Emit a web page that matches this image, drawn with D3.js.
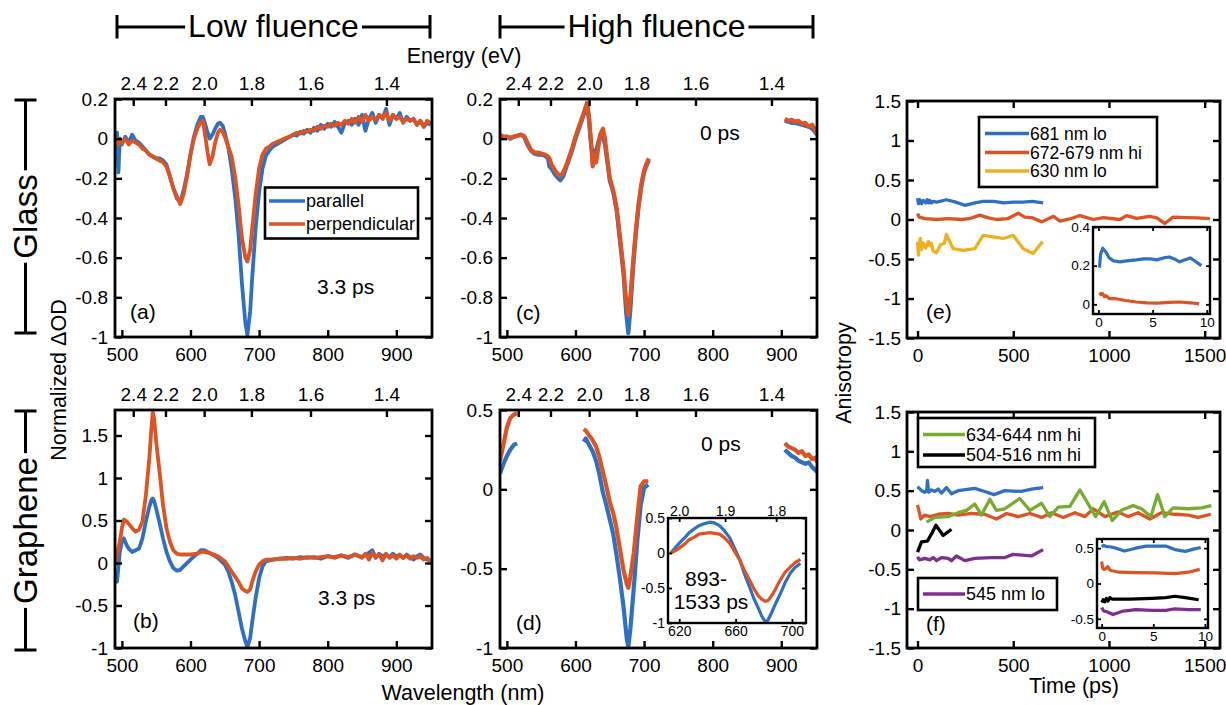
<!DOCTYPE html>
<html>
<head>
<meta charset="utf-8">
<script src="https://cdn.jsdelivr.net/npm/d3@7"></script>
<style>
  body { margin: 0; background: #fff; }
  svg { display: block; font-family: "Liberation Sans", Arial, Helvetica, sans-serif; }
</style>
</head>
<body>
<svg id="fig" width="1226" height="705"></svg>
<script>
// ---------- values ----------
const energyTicks = [2.4, 2.2, 2.0, 1.8, 1.6, 1.4];
const insetEnergyTicks = [2.0, 1.9, 1.8];
const wlTicks = [500, 600, 700, 800, 900];
const timeTicks = [0, 500, 1000, 1500];
const yTicksGlass = [-1, -0.8, -0.6, -0.4, -0.2, 0, 0.2];
const yTicksB = [-1, -0.5, 0, 0.5, 1, 1.5];
const yTicksD = [-1, -0.5, 0, 0.5];
const yTicksAniso = [-1.5, -1, -0.5, 0, 0.5, 1, 1.5];

// (a) glass, low fluence, 3.3 ps
const wlA = [490, 493, 495, 497, 500, 505, 510, 515, 520, 525,
  530, 535, 540, 545, 550, 555, 560, 565, 570, 575,
  580, 585, 590, 595, 600, 605, 610, 615, 618, 620,
  625, 628, 632, 636, 640, 643, 647, 650, 655, 660,
  665, 670, 675, 680, 683, 687, 690, 695, 700, 705,
  710, 715, 720, 730, 740, 750, 755, 760, 765, 770,
  775, 780, 785, 790, 795, 800, 805, 810, 815, 820,
  825, 830, 835, 840, 845, 850, 855, 860, 865, 870,
  875, 880, 885, 890, 895, 900, 905, 910, 915, 920,
  925, 930, 935, 940, 945, 950];
const aPar = [-0.02, 0.03, -0.17, 0.0, -0.03, 0.01, -0.02, 0.02, -0.01, -0.02,
  -0.04, -0.06, -0.08, -0.09, -0.10, -0.10, -0.11, -0.13, -0.19, -0.25,
  -0.30, -0.32, -0.26, -0.18, -0.08, 0.01, 0.07, 0.11, 0.11, 0.09,
  0.03, 0.0, 0.02, 0.05, 0.075, 0.08, 0.065, 0.03, -0.04, -0.15,
  -0.29, -0.48, -0.73, -0.93, -0.99, -0.87, -0.70, -0.45, -0.27, -0.15,
  -0.085, -0.06, -0.04, -0.02, 0.0, 0.02, 0.015, 0.035, 0.025, 0.045,
  0.03, 0.055, 0.04, 0.07, 0.05, 0.075, 0.06, 0.085, 0.06, 0.03,
  0.08, 0.09, 0.07, 0.10, 0.07, 0.12, 0.04, 0.10, 0.13, 0.08,
  0.12, 0.10, 0.15, 0.07, 0.12, 0.10, 0.13, 0.08, 0.11, 0.09,
  0.10, 0.07, 0.09, 0.06, 0.08, 0.07];
const aPerp = [-0.01, 0.0, -0.03, -0.01, -0.02, 0.0, -0.03, -0.01, -0.02, -0.03,
  -0.05, -0.06, -0.08, -0.09, -0.10, -0.11, -0.12, -0.14, -0.19, -0.25,
  -0.29, -0.33, -0.28, -0.19, -0.08, 0.0, 0.05, 0.085, 0.09, 0.05,
  -0.07, -0.13, -0.09, -0.02, 0.03, 0.045, 0.035, 0.01, -0.04, -0.09,
  -0.19, -0.33, -0.50, -0.60, -0.62, -0.56, -0.45, -0.28, -0.15, -0.08,
  -0.05, -0.04, -0.025, -0.01, 0.005, 0.02, 0.03, 0.025, 0.04, 0.035,
  0.045, 0.04, 0.06, 0.05, 0.065, 0.06, 0.075, 0.065, 0.08, 0.07,
  0.09, 0.075, 0.10, 0.08, 0.11, 0.085, 0.12, 0.09, 0.11, 0.095,
  0.12, 0.10, 0.13, 0.09, 0.12, 0.10, 0.11, 0.085, 0.10, 0.09,
  0.10, 0.07, 0.09, 0.06, 0.09, 0.08];

// (b) graphene, low fluence, 3.3 ps
const wlB = [490, 493, 497, 500, 503, 507, 510, 515, 520, 525,
  530, 535, 540, 543, 545, 547, 550, 555, 560, 565,
  570, 575, 580, 585, 590, 600, 610, 615, 620, 630,
  640, 650, 655, 660, 665, 670, 675, 680, 683, 687,
  690, 695, 700, 705, 710, 720, 730, 740, 750, 760,
  770, 780, 790, 800, 810, 820, 830, 840, 850, 855,
  860, 865, 870, 875, 880, 885, 890, 895, 900, 905,
  910, 915, 920, 925, 930, 935, 940, 945, 950];
const bPar = [-0.14, -0.22, 0.13, 0.25, 0.29, 0.21, 0.17, 0.13, 0.15, 0.17,
  0.29, 0.49, 0.66, 0.74, 0.76, 0.73, 0.64, 0.47, 0.29, 0.13,
  0.02, -0.06, -0.09, -0.08, -0.04, 0.04, 0.11, 0.15, 0.15, 0.11,
  0.06, -0.02, -0.10, -0.22, -0.37, -0.57, -0.77, -0.92, -0.99, -0.88,
  -0.69, -0.41, -0.18, -0.04, 0.02, 0.04, 0.05, 0.06, 0.05, 0.07,
  0.06, 0.07, 0.05, 0.08, 0.07, 0.09, 0.06, 0.10, 0.07, 0.09,
  0.12, 0.15, 0.06, 0.11, 0.08, 0.10, 0.07, 0.11, 0.08, 0.09,
  0.06, 0.10, 0.07, 0.04, 0.08, 0.10, 0.06, 0.04, 0.03];
const bPerp = [-0.02, 0.10, 0.25, 0.41, 0.51, 0.49, 0.46, 0.41, 0.37, 0.39,
  0.49, 0.80, 1.23, 1.58, 1.77, 1.70, 1.43, 1.07, 0.68, 0.41,
  0.25, 0.15, 0.11, 0.10, 0.10, 0.10, 0.11, 0.13, 0.13, 0.11,
  0.08, 0.02, -0.04, -0.10, -0.16, -0.22, -0.30, -0.33, -0.34, -0.31,
  -0.22, -0.10, -0.02, 0.02, 0.04, 0.04, 0.05, 0.05, 0.06, 0.05,
  0.07, 0.06, 0.07, 0.08, 0.06, 0.09, 0.07, 0.10, 0.06, 0.11,
  0.04, 0.12, 0.07, 0.10, 0.03, 0.11, 0.06, 0.09, 0.05, 0.10,
  0.06, 0.09, 0.05, 0.08, 0.06, 0.08, 0.04, 0.06, 0.02];

// (c) glass, high fluence, 0 ps (null = gap in the probe)
const wlC = [490, 495, 500, 505, 510, 515, 520, 525, 530, 535,
  540, 545, 550, 555, 560, 562, 565, 570, 575, 578,
  582, 586, 590, 595, 600, 605, 610, 614, 617, 620,
  623, 625, 627, 630, 633, 636, 640, 643, 647, 650,
  655, 660, 665, 670, 674, 677, 680, 684, 688, 692,
  696, 700, 703, 707, 800, 905, 910, 915, 920, 925,
  930, 935, 940, 945, 950, 952];
const cPar = [0.01, 0.005, 0.01, 0.0, 0.01, 0.015, 0.02, 0.01, -0.03, -0.06,
  -0.075, -0.08, -0.08, -0.085, -0.10, -0.14, -0.15, -0.18, -0.20, -0.21,
  -0.19, -0.15, -0.11, -0.06, 0.0, 0.05, 0.10, 0.14, 0.18, 0.08,
  -0.04, -0.08, -0.06, -0.07, -0.02, 0.01, 0.01, -0.03, -0.13, -0.21,
  -0.27, -0.36, -0.52, -0.68, -0.88, -0.98, -0.86, -0.65, -0.48, -0.34,
  -0.24, -0.17, -0.14, -0.11, null, 0.09, 0.085, 0.08, 0.08, 0.075,
  0.07, 0.065, 0.06, 0.05, 0.03, 0.02];
const cPerp = [0.02, 0.01, 0.01, 0.005, 0.01, 0.015, 0.02, 0.015, -0.02, -0.055,
  -0.07, -0.07, -0.075, -0.08, -0.09, -0.10, -0.13, -0.16, -0.18, -0.19,
  -0.17, -0.14, -0.10, -0.05, 0.01, 0.06, 0.11, 0.15, 0.18, 0.10,
  -0.03, -0.14, -0.08, -0.12, -0.05, 0.02, 0.05, 0.0, -0.12, -0.20,
  -0.26, -0.35, -0.50, -0.66, -0.82, -0.89, -0.80, -0.62, -0.46, -0.33,
  -0.23, -0.16, -0.13, -0.10, null, 0.10, 0.09, 0.095, 0.085, 0.09,
  0.075, 0.08, 0.06, 0.07, 0.04, 0.03];

// (d) graphene, high fluence, 0 ps
const wlD = [490, 495, 500, 505, 510, 515, 560, 612, 615, 620,
  625, 630, 635, 640, 645, 650, 655, 660, 665, 670,
  675, 677, 680, 685, 690, 695, 700, 706, 800, 905,
  910, 915, 920, 925, 930, 935, 940, 945, 950, 952];
const dPar = [0.10, 0.16, 0.21, 0.25, 0.28, 0.29, null, 0.30, 0.32, 0.28,
  0.24, 0.18, 0.09, -0.02, -0.10, -0.19, -0.28, -0.42, -0.57, -0.74,
  -0.95, -0.99, -0.88, -0.62, -0.33, -0.10, 0.01, 0.03, null, 0.25,
  0.23, 0.21, 0.20, 0.18, 0.17, 0.16, 0.17, 0.14, 0.12, 0.11];
const dPerp = [0.18, 0.28, 0.39, 0.45, 0.47, 0.48, null, 0.38, 0.37, 0.34,
  0.31, 0.27, 0.20, 0.11, 0.02, -0.08, -0.15, -0.25, -0.38, -0.51,
  -0.60, -0.62, -0.55, -0.40, -0.18, 0.02, 0.05, 0.05, null, 0.29,
  0.27, 0.26, 0.25, 0.23, 0.24, 0.21, 0.22, 0.19, 0.20, 0.17];

// (d) inset, 893-1533 ps
const wlIn = [614, 617, 620, 624, 627, 631, 634, 638, 641.5, 645,
  648.6, 652, 655.8, 659, 663, 666, 670, 673, 676, 678.5,
  681, 683, 685.6, 688, 691.6, 695, 698.8, 702, 706];
const inPar = [0.0, 0.07, 0.14, 0.22, 0.29, 0.35, 0.39, 0.42, 0.44, 0.43,
  0.39, 0.32, 0.22, 0.08, -0.10, -0.28, -0.49, -0.65, -0.78, -0.90,
  -0.98, -0.96, -0.85, -0.74, -0.59, -0.43, -0.29, -0.21, -0.15];
const inPerp = [0.0, 0.03, 0.07, 0.13, 0.19, 0.23, 0.27, 0.28, 0.29, 0.28,
  0.27, 0.22, 0.14, 0.03, -0.10, -0.24, -0.39, -0.51, -0.61, -0.66,
  -0.69, -0.68, -0.61, -0.53, -0.39, -0.28, -0.20, -0.14, -0.09];

// (e) anisotropy, glass
const tE681 = [0, 5, 12, 21, 30, 43, 50, 57, 64, 72, 81, 100, 151, 200, 247, 300, 343, 400, 450, 500, 550, 600, 656];
const vE681 = [0.27, 0.20, 0.25, 0.20, 0.24, 0.21, 0.25, 0.21, 0.24, 0.21, 0.23, 0.22, 0.25, 0.22, 0.18, 0.21, 0.23, 0.23, 0.21, 0.22, 0.22, 0.23, 0.21];
const tE672 = [0, 8, 41, 100, 160, 230, 270, 325, 370, 413, 470, 526, 560, 596, 649, 710, 744, 800, 848, 918, 970, 1057, 1092, 1144, 1213, 1250, 1291, 1335, 1405, 1460, 1527];
const vE672 = [0.076, 0.03, 0.012, 0.0, 0.01, 0.0, 0.01, 0.055, 0.02, 0.0, 0.01, 0.08, 0.03, 0.025, -0.03, 0.04, -0.02, 0.01, 0.05, 0.0, 0.025, 0.0, 0.05, 0.015, 0.04, 0.02, -0.05, 0.03, 0.025, 0.02, 0.012];
const tE630 = [0, 5, 10, 15, 21, 30, 43, 57, 64, 72, 81, 99, 120, 140, 151, 186, 238, 299, 343, 395, 447, 500, 552, 604, 653];
const vE630 = [-0.28, -0.45, -0.30, -0.24, -0.38, -0.30, -0.36, -0.28, -0.33, -0.30, -0.40, -0.42, -0.32, -0.30, -0.19, -0.37, -0.39, -0.37, -0.20, -0.22, -0.24, -0.20, -0.37, -0.43, -0.28];
const tEi681 = [0.1, 0.2, 0.4, 0.7, 1.0, 1.4, 2.0, 2.6, 3.5, 4.2, 4.8, 5.4, 6.0, 6.55, 7.0, 7.5, 8.0, 8.5, 9.0, 9.5];
const vEi681 = [0.19, 0.26, 0.29, 0.27, 0.24, 0.225, 0.22, 0.225, 0.23, 0.235, 0.235, 0.23, 0.24, 0.245, 0.235, 0.22, 0.23, 0.24, 0.22, 0.20];
const tEi672 = [0.1, 0.25, 0.4, 0.55, 0.7, 1.0, 1.5, 2.5, 3.5, 4.5, 5.5, 6.5, 7.5, 8.5, 9.3];
const vEi672 = [0.06, 0.05, 0.055, 0.04, 0.045, 0.03, 0.03, 0.02, 0.012, 0.008, 0.006, 0.01, 0.012, 0.008, 0.002];

// (f) anisotropy, graphene
const tF681 = [0, 21, 38, 48, 52, 58, 73, 90, 108, 125, 151, 177, 212, 299, 351, 400, 456, 543, 595, 656];
const vF681 = [0.55, 0.50, 0.48, 0.50, 0.63, 0.48, 0.51, 0.49, 0.52, 0.47, 0.54, 0.46, 0.50, 0.53, 0.49, 0.45, 0.50, 0.49, 0.52, 0.54];
const tF672 = [0, 17, 38, 64, 108, 160, 212, 282, 351, 412, 465, 526, 587, 648, 700, 761, 822, 874, 918, 979, 1048, 1100, 1152, 1213, 1274, 1344, 1414, 1466, 1532];
const vF672 = [0.32, 0.14, 0.19, 0.17, 0.20, 0.21, 0.19, 0.21, 0.20, 0.14, 0.21, 0.17, 0.21, 0.16, 0.22, 0.16, 0.22, 0.17, 0.27, 0.17, 0.23, 0.17, 0.22, 0.14, 0.22, 0.20, 0.19, 0.16, 0.20];
const tF634 = [47, 90, 160, 212, 256, 299, 334, 378, 412, 456, 534, 587, 648, 691, 735, 796, 848, 930, 975, 1017, 1065, 1126, 1170, 1219, 1254, 1292, 1335, 1414, 1483, 1535];
const vF634 = [0.10, 0.16, 0.17, 0.22, 0.25, 0.33, 0.19, 0.39, 0.25, 0.27, 0.40, 0.25, 0.34, 0.17, 0.29, 0.30, 0.51, 0.17, 0.36, 0.12, 0.25, 0.31, 0.27, 0.17, 0.45, 0.17, 0.28, 0.27, 0.28, 0.31];
const tF504 = [0, 21, 52, 73, 96, 134, 177];
const vF504 = [-0.28, -0.15, -0.14, -0.05, 0.06, -0.07, 0.01];
const tF545 = [0, 10, 38, 64, 82, 99, 125, 160, 177, 203, 247, 299, 386, 456, 499, 595, 656];
const vF545 = [-0.34, -0.38, -0.36, -0.38, -0.35, -0.39, -0.35, -0.36, -0.39, -0.33, -0.39, -0.36, -0.35, -0.35, -0.31, -0.33, -0.25];
const tFi681 = [0, 0.2, 0.5, 0.8, 1.4, 2.2, 3.3, 4.3, 5.2, 6.2, 7.1, 8.1, 9.0, 9.6];
const vFi681 = [0.52, 0.54, 0.52, 0.52, 0.50, 0.46, 0.50, 0.53, 0.53, 0.53, 0.48, 0.455, 0.49, 0.51];
const tFi672 = [0, 0.1, 0.2, 0.4, 0.6, 0.8, 1.0, 1.7, 3.3, 5.2, 7.1, 8.4, 9.5];
const vFi672 = [0.31, 0.22, 0.20, 0.21, 0.24, 0.19, 0.18, 0.16, 0.155, 0.15, 0.14, 0.16, 0.20];
const tFi504 = [0, 0.15, 0.3, 0.45, 0.6, 0.8, 1.0, 2.7, 4.9, 6.2, 7.1, 8.1, 9.4];
const vFi504 = [-0.27, -0.23, -0.26, -0.21, -0.25, -0.20, -0.22, -0.22, -0.21, -0.20, -0.18, -0.20, -0.23];
const tFi545 = [0, 0.2, 0.5, 1.1, 2.1, 3.3, 4.9, 6.2, 7.1, 8.4, 9.6];
const vFi545 = [-0.34, -0.39, -0.40, -0.44, -0.39, -0.37, -0.38, -0.38, -0.36, -0.37, -0.37];

// ---------- drawing ----------
const BLUE = "#3070c0", RED = "#dc5423", YELLOW = "#edb120", PURPLE = "#7e2f8e", GREEN = "#77ac30", BLACK = "#000";
const svg = d3.select("#fig");
const toNm = e => 1239.84 / e;
const num = d => String(d);

function makePanel(id, box, xDom, yDom) {
  const x = d3.scaleLinear().domain(xDom).range([box.l, box.r]);
  const y = d3.scaleLinear().domain(yDom).range([box.b, box.t]);
  const g = svg.append("g").attr("class", "panel-" + id);
  g.append("rect")
    .attr("x", box.l).attr("y", box.t)
    .attr("width", box.r - box.l).attr("height", box.b - box.t)
    .attr("fill", "#fff");
  g.append("clipPath").attr("id", "clip-" + id).append("rect")
    .attr("x", box.l).attr("y", box.t)
    .attr("width", box.r - box.l).attr("height", box.b - box.t);
  const plot = g.append("g").attr("clip-path", `url(#clip-${id})`);
  return { box, x, y, g, plot };
}

function drawLine(p, xs, ys, color, w) {
  const line = d3.line()
    .defined(d => d[1] !== null)
    .x(d => p.x(d[0]))
    .y(d => p.y(d[1]));
  p.plot.append("path")
    .datum(d3.zip(xs, ys))
    .attr("d", line)
    .attr("fill", "none")
    .attr("stroke", color)
    .attr("stroke-width", w)
    .attr("stroke-linejoin", "round");
}

function drawAxes(p, o) {
  const { box, x, y, g } = p;
  const tidy = sel => {
    sel.select(".domain").remove();
    sel.selectAll(".tick line").attr("stroke", "#000").attr("stroke-width", o.sw);
    sel.attr("font-family", null).attr("font-size", o.fs);
    sel.selectAll(".tick text").attr("fill", "#000");
  };
  g.append("g").attr("transform", `translate(0,${box.b})`)
    .call(d3.axisBottom(x).tickValues(o.xTicks).tickFormat(num)
      .tickSizeInner(-o.tick).tickSizeOuter(0).tickPadding(o.padX))
    .call(tidy);

  const top = o.energy
    ? d3.axisTop(x).tickValues(o.energy.map(toNm)).tickFormat(d => (1239.84 / d).toFixed(1)).tickPadding(o.padTop)
    : d3.axisTop(x).tickValues(o.xTicks).tickFormat(() => "");
  g.append("g").attr("transform", `translate(0,${box.t})`)
    .call(top.tickSizeInner(-o.tick).tickSizeOuter(0))
    .call(tidy);

  g.append("g").attr("transform", `translate(${box.l},0)`)
    .call(d3.axisLeft(y).tickValues(o.yTicks).tickFormat(num)
      .tickSizeInner(-o.tick).tickSizeOuter(0).tickPadding(o.padY))
    .call(tidy);
  g.append("g").attr("transform", `translate(${box.r},0)`)
    .call(d3.axisRight(y).tickValues(o.yTicks).tickFormat(() => "")
      .tickSizeInner(-o.tick).tickSizeOuter(0))
    .call(tidy);

  g.append("rect")
    .attr("x", box.l).attr("y", box.t)
    .attr("width", box.r - box.l).attr("height", box.b - box.t)
    .attr("fill", "none").attr("stroke", "#000").attr("stroke-width", o.frame);
}

function label(txt, x, y, size, anchor) {
  return svg.append("text")
    .attr("x", x).attr("y", y)
    .attr("text-anchor", anchor || "start")
    .attr("font-size", size)
    .attr("fill", "#000")
    .text(txt);
}

function legend(x0, y0, w, h, items, rows) {
  const g = svg.append("g");
  g.append("rect").attr("x", x0).attr("y", y0).attr("width", w).attr("height", h)
    .attr("fill", "#fff").attr("stroke", "#000").attr("stroke-width", 2.6);
  items.forEach((it, i) => {
    g.append("line")
      .attr("x1", it.lx1).attr("x2", it.lx2).attr("y1", rows[i]).attr("y2", rows[i])
      .attr("stroke", it.color).attr("stroke-width", 3.4);
    g.append("text")
      .attr("x", it.lx2 + 1).attr("y", rows[i])
      .attr("dominant-baseline", "central")
      .attr("font-size", it.fs)
      .text(it.name);
  });
}

const mainOpt = { tick: 7, sw: 2.4, fs: 19, padX: 11, padY: 7, padTop: 9, frame: 2.8 };
const insetOpt = { tick: 4, sw: 1.8, fs: 13.5, padX: 3, padY: 3, padTop: 2, frame: 2.4 };
const SPEC_W = 3.8, ANI_W = 3.3, INSET_W = 3.2;

// (a)
const pA = makePanel("a", { l: 115, r: 432, t: 99, b: 337 }, [490, 952], [-1, 0.2]);
drawLine(pA, wlA, aPar, BLUE, SPEC_W);
drawLine(pA, wlA, aPerp, RED, SPEC_W);
drawAxes(pA, Object.assign({}, mainOpt, { xTicks: wlTicks, yTicks: yTicksGlass, energy: energyTicks }));

// (b)
const pB = makePanel("b", { l: 115, r: 432, t: 410, b: 648 }, [490, 952], [-1, 1.8]);
drawLine(pB, wlB, bPar, BLUE, SPEC_W);
drawLine(pB, wlB, bPerp, RED, SPEC_W);
drawAxes(pB, Object.assign({}, mainOpt, { xTicks: wlTicks, yTicks: yTicksB, energy: energyTicks }));

// (c)
const pC = makePanel("c", { l: 500, r: 817, t: 99, b: 337 }, [490, 952], [-1, 0.2]);
drawLine(pC, wlC, cPar, BLUE, SPEC_W + 0.4);
drawLine(pC, wlC, cPerp, RED, SPEC_W + 0.4);
drawAxes(pC, Object.assign({}, mainOpt, { xTicks: wlTicks, yTicks: yTicksGlass, energy: energyTicks }));

// (d)
const pD = makePanel("d", { l: 500, r: 817, t: 410, b: 648 }, [490, 952], [-1, 0.5]);
drawLine(pD, wlD, dPar, BLUE, SPEC_W + 0.4);
drawLine(pD, wlD, dPerp, RED, SPEC_W + 0.4);
drawAxes(pD, Object.assign({}, mainOpt, { xTicks: wlTicks, yTicks: yTicksD, energy: energyTicks }));

const pDi = makePanel("di", { l: 668, r: 806, t: 518, b: 623 }, [612, 710], [-1, 0.5]);
drawLine(pDi, wlIn, inPar, BLUE, INSET_W);
drawLine(pDi, wlIn, inPerp, RED, INSET_W);
drawAxes(pDi, Object.assign({}, insetOpt, { fs: 14, xTicks: [620, 660, 700], yTicks: yTicksD, energy: insetEnergyTicks }));

// (e)
const pE = makePanel("e", { l: 907, r: 1220, t: 101, b: 338 }, [-55, 1580], [-1.5, 1.5]);
drawLine(pE, tE681, vE681, BLUE, ANI_W);
drawLine(pE, tE672, vE672, RED, ANI_W);
drawLine(pE, tE630, vE630, YELLOW, ANI_W);
drawAxes(pE, Object.assign({}, mainOpt, { xTicks: timeTicks, yTicks: yTicksAniso, padY: 6 }));

const pEi = makePanel("ei", { l: 1093, r: 1210, t: 227, b: 314 }, [-0.5, 10.3], [-0.05, 0.4]);
drawLine(pEi, tEi681, vEi681, BLUE, INSET_W);
drawLine(pEi, tEi672, vEi672, RED, INSET_W);
drawAxes(pEi, Object.assign({}, insetOpt, { xTicks: [0, 5, 10], yTicks: [0, 0.2, 0.4] }));

// (f)
const pF = makePanel("f", { l: 907, r: 1220, t: 412, b: 648 }, [-55, 1580], [-1.5, 1.5]);
drawLine(pF, tF681, vF681, BLUE, ANI_W);
drawLine(pF, tF672, vF672, RED, ANI_W);
drawLine(pF, tF634, vF634, GREEN, ANI_W);
drawLine(pF, tF504, vF504, BLACK, ANI_W);
drawLine(pF, tF545, vF545, PURPLE, ANI_W);
drawAxes(pF, Object.assign({}, mainOpt, { xTicks: timeTicks, yTicks: yTicksAniso, padY: 6 }));

const pFi = makePanel("fi", { l: 1097, r: 1208, t: 539, b: 628 }, [-0.45, 10.3], [-0.63, 0.63]);
drawLine(pFi, tFi681, vFi681, BLUE, INSET_W);
drawLine(pFi, tFi672, vFi672, RED, INSET_W);
drawLine(pFi, tFi504, vFi504, BLACK, INSET_W);
drawLine(pFi, tFi545, vFi545, PURPLE, INSET_W);
drawAxes(pFi, Object.assign({}, insetOpt, { xTicks: [0, 5, 10], yTicks: [-0.5, 0, 0.5] }));

// legends
legend(265, 187.5, 153, 51, [
  { name: "parallel", color: BLUE, lx1: 269, lx2: 305, fs: 18 },
  { name: "perpendicular", color: RED, lx1: 269, lx2: 305, fs: 18 }
], [201, 224]);
legend(979, 117, 178, 70, [
  { name: "681 nm lo", color: BLUE, lx1: 985, lx2: 1029, fs: 17.5 },
  { name: "672-679 nm hi", color: RED, lx1: 985, lx2: 1029, fs: 17.5 },
  { name: "630 nm lo", color: YELLOW, lx1: 985, lx2: 1029, fs: 17.5 }
], [133.5, 152.5, 171]);
legend(918, 418, 177, 49, [
  { name: "634-644 nm hi", color: GREEN, lx1: 923, lx2: 965, fs: 18 },
  { name: "504-516 nm hi", color: BLACK, lx1: 923, lx2: 965, fs: 18 }
], [434.5, 455]);
legend(918, 578, 139, 32, [
  { name: "545 nm lo", color: PURPLE, lx1: 923, lx2: 965, fs: 18 }
], [594]);

// panel annotations
label("(a)", 130, 319, 21);
label("3.3 ps", 317, 294, 21);
label("(b)", 133, 628, 21);
label("3.3 ps", 318, 605, 21);
label("(c)", 516, 320, 21);
label("0 ps", 700, 139.5, 21);
label("(d)", 516, 630, 21);
label("0 ps", 701, 451, 21);
label("893-", 706, 586, 21, "middle");
label("1533 ps", 711, 609, 21, "middle");
label("(e)", 926, 319, 21);
label("(f)", 926, 631, 21);

// axis titles
label("Energy (eV)", 464, 63, 21.5, "middle");
label("Wavelength (nm)", 463, 700, 21.5, "middle");
label("Time (ps)", 1074, 693, 21.5, "middle");
svg.append("text")
  .attr("transform", "translate(66,380) rotate(-90)")
  .attr("text-anchor", "middle").attr("font-size", 21.5)
  .text("Normalized \u0394OD");
svg.append("text")
  .attr("transform", "translate(851,373) rotate(-90)")
  .attr("text-anchor", "middle").attr("font-size", 21.5)
  .text("Anisotropy");

// bracket labels: fluence (horizontal) and substrate (vertical)
function hBracket(txt, x1, x2, yc) {
  const t = label(txt, (x1 + x2) / 2, yc + 10, 32, "middle");
  const w = t.node().getComputedTextLength();
  const mid = (x1 + x2) / 2;
  const segs = [[x1, mid - w / 2 - 3], [mid + w / 2 + 3, x2]];
  segs.forEach(s => svg.append("line").attr("x1", s[0]).attr("x2", s[1]).attr("y1", yc).attr("y2", yc)
    .attr("stroke", "#000").attr("stroke-width", 3));
  [x1, x2].forEach(xx => svg.append("line").attr("x1", xx).attr("x2", xx).attr("y1", yc - 12).attr("y2", yc + 11.5)
    .attr("stroke", "#000").attr("stroke-width", 3));
}
function vBracket(txt, y1, y2, xc) {
  const mid = (y1 + y2) / 2;
  const t = svg.append("text")
    .attr("transform", `translate(${xc + 11},${mid}) rotate(-90)`)
    .attr("text-anchor", "middle").attr("font-size", 33)
    .text(txt);
  const w = t.node().getComputedTextLength();
  const segs = [[y1, mid - w / 2 - 4], [mid + w / 2 + 4, y2]];
  segs.forEach(s => svg.append("line").attr("x1", xc).attr("x2", xc).attr("y1", s[0]).attr("y2", s[1])
    .attr("stroke", "#000").attr("stroke-width", 3));
  [y1, y2].forEach(yy => svg.append("line").attr("x1", xc - 11).attr("x2", xc + 11).attr("y1", yy).attr("y2", yy)
    .attr("stroke", "#000").attr("stroke-width", 3));
}
hBracket("Low fluence", 117, 430, 27);
hBracket("High fluence", 500, 813, 27);
vBracket("Glass", 100, 333, 25.5);
vBracket("Graphene", 411, 650, 25.5);
</script>
</body>
</html>
